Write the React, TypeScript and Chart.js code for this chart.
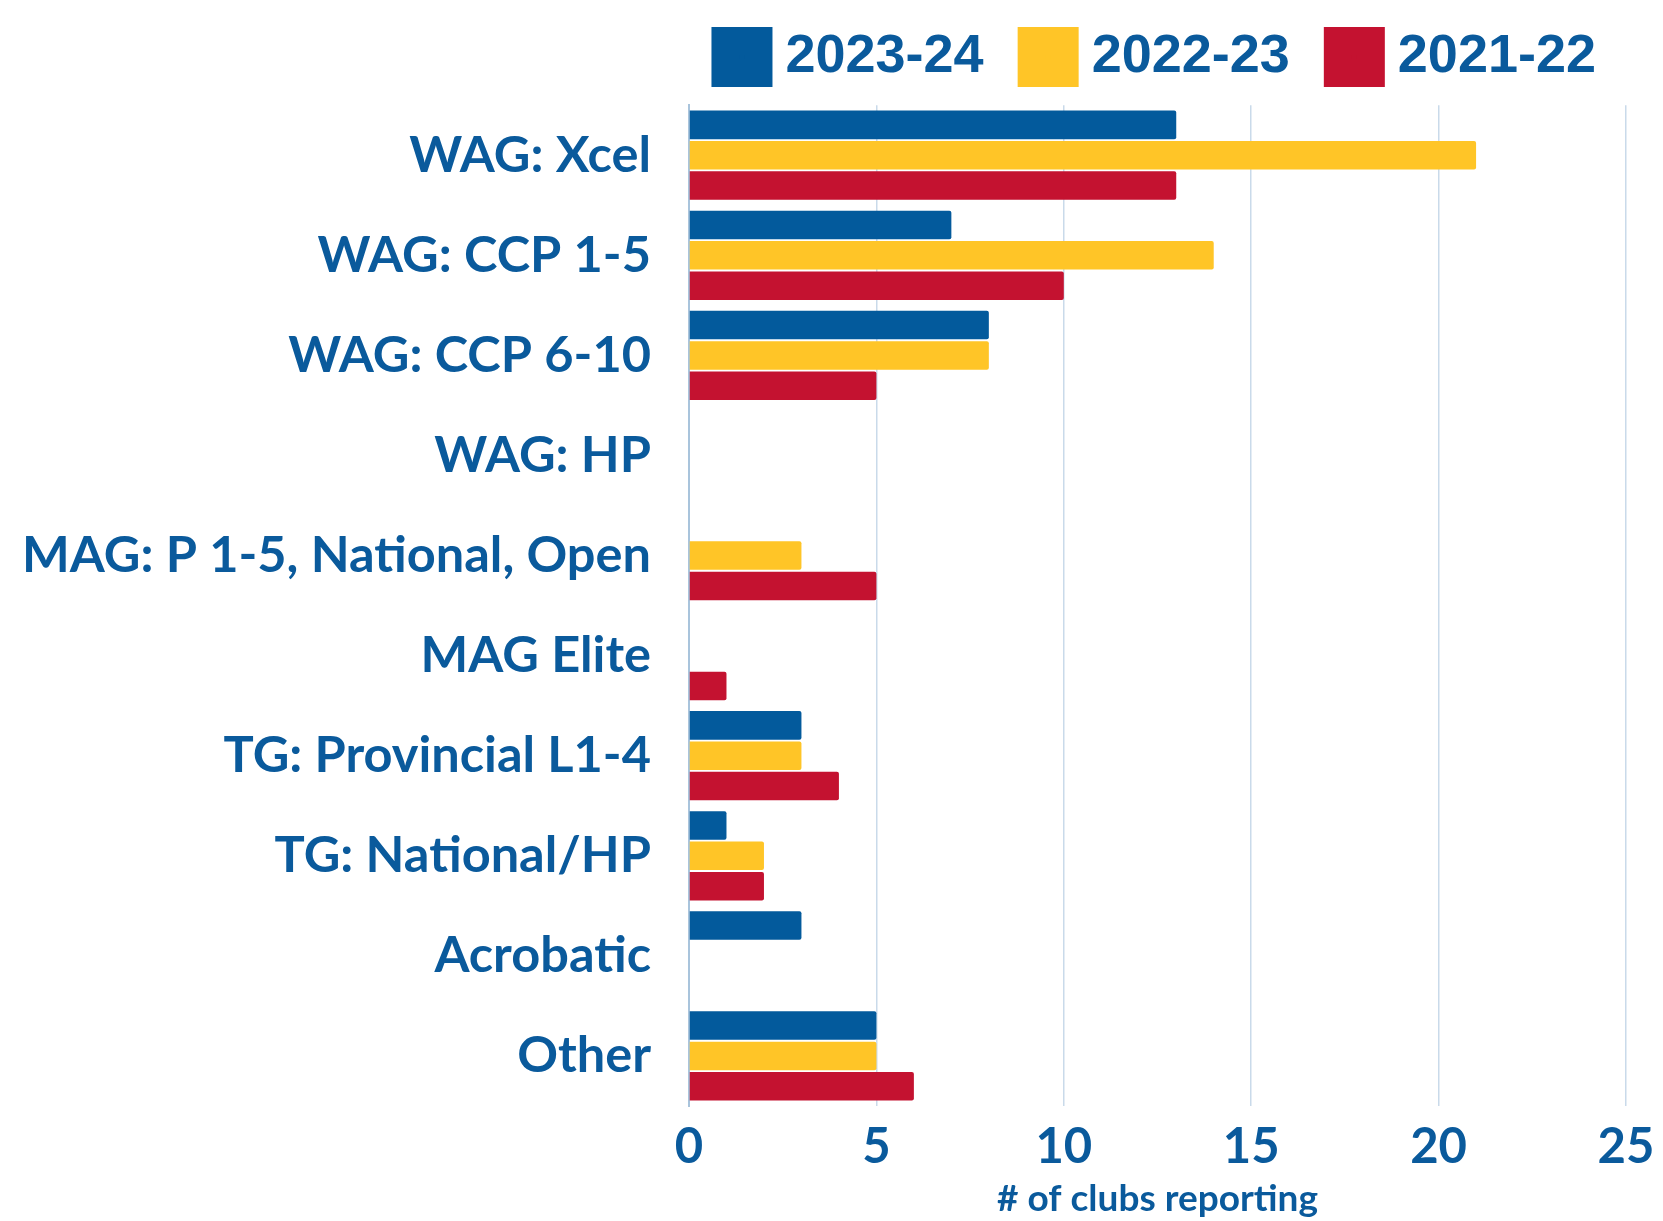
import React, { useEffect, useRef } from "react";
import { Chart, registerables } from "chart.js";

Chart.register(...registerables);

const categories = [
  "WAG: Xcel",
  "WAG: CCP 1-5",
  "WAG: CCP 6-10",
  "WAG: HP",
  "MAG: P 1-5, National, Open",
  "MAG Elite",
  "TG: Provincial L1-4",
  "TG: National/HP",
  "Acrobatic",
  "Other",
];

const series2023_24 = [13, 7, 8, 0, 0, 0, 3, 1, 3, 5];
const series2022_23 = [21, 14, 8, 0, 3, 0, 3, 2, 0, 5];
const series2021_22 = [13, 10, 5, 0, 5, 1, 4, 2, 0, 6];

const seriesLabels = ["2023-24", "2022-23", "2021-22"];
const xTicks = [0, 5, 10, 15, 20, 25];
const xTitle = "# of clubs reporting";

const BLUE = "#035A9C";
const YELLOW = "#FFC527";
const RED = "#C41230";
const TEXT = "#0A5A9C";

const legendShift = {
  id: "legendShift",
  afterLayout(chart: any) {
    if (chart.legend) {
      chart.legend.right = chart.width - 19;
    }
  },
};

export default function App() {
  const ref = useRef<HTMLCanvasElement | null>(null);

  useEffect(() => {
    document.body.style.margin = "0";
    const canvas = ref.current;
    if (!canvas) return;
    const mk = (label: string, data: number[], color: string) => ({
      label,
      data,
      backgroundColor: color,
      borderWidth: 0,
      borderRadius: 2,
      borderSkipped: "start" as const,
      categoryPercentage: 0.91,
      barPercentage: 0.94,
    });
    const chart = new Chart(canvas, {
      type: "bar",
      data: {
        labels: categories,
        datasets: [
          mk(seriesLabels[0], series2023_24, BLUE),
          mk(seriesLabels[1], series2022_23, YELLOW),
          mk(seriesLabels[2], series2021_22, RED),
        ],
      },
      plugins: [legendShift],
      options: {
        indexAxis: "y",
        responsive: false,
        animation: false,
        layout: { padding: { top: -18, right: 37, left: 0, bottom: 0 } },
        plugins: {
          tooltip: { enabled: false },
          title: {
            display: true,
            text: "",
            position: "top",
            weight: 500,
            font: { size: 1 },
            padding: { top: 10, bottom: 0 },
          },
          legend: {
            position: "top",
            fullSize: true,
            align: "end",
            labels: {
              boxWidth: 33,
              boxHeight: 32,
              padding: 48,
              color: TEXT,
              font: { family: "'Liberation Sans Narrow', 'Liberation Sans', sans-serif", weight: "bold", size: 54 },
              generateLabels: (c: any) =>
                c.data.datasets.map((ds: any, i: number) => ({
                  text: ds.label,
                  fillStyle: ds.backgroundColor,
                  strokeStyle: ds.backgroundColor,
                  lineWidth: 28,
                  lineJoin: "miter",
                  hidden: false,
                  datasetIndex: i,
                  fontColor: TEXT,
                })),
            },
          },
        },
        scales: {
          x: {
            min: 0,
            max: 25,
            afterBuildTicks: (scale: any) => {
              scale.ticks = xTicks.map((v) => ({ value: v }));
            },
            afterFit: (scale: any) => {
              scale.height = 115;
              scale.paddingLeft = 0;
              scale.paddingRight = 0;
            },
            grid: { color: "#C9DAEA", lineWidth: 1.5, drawTicks: false },
            border: { display: false },
            ticks: {
              color: TEXT,
              padding: 12,
              font: { family: "Lato", weight: "bold", size: 49 },
            },
            title: {
              display: true,
              text: xTitle,
              color: TEXT,
              padding: { top: 0, bottom: 0 },
              font: { family: "Lato", weight: "bold", size: 37 },
            },
          },
          y: {
            afterFit: (scale: any) => {
              scale.width = 689;
              scale.paddingTop = 0;
              scale.paddingBottom = 0;
            },
            grid: { display: false, drawTicks: false },
            border: { display: true, color: "#A9C4DC", width: 2 },
            ticks: {
              color: TEXT,
              padding: 38,
              font: { family: "Lato", weight: "bold", size: 50.5 },
            },
          },
        },
      },
    });
    return () => chart.destroy();
  }, []);

  return (
    <div style={{ width: 1663, height: 1221 }}>
      <canvas ref={ref} width={1663} height={1221} />
    </div>
  );
}
